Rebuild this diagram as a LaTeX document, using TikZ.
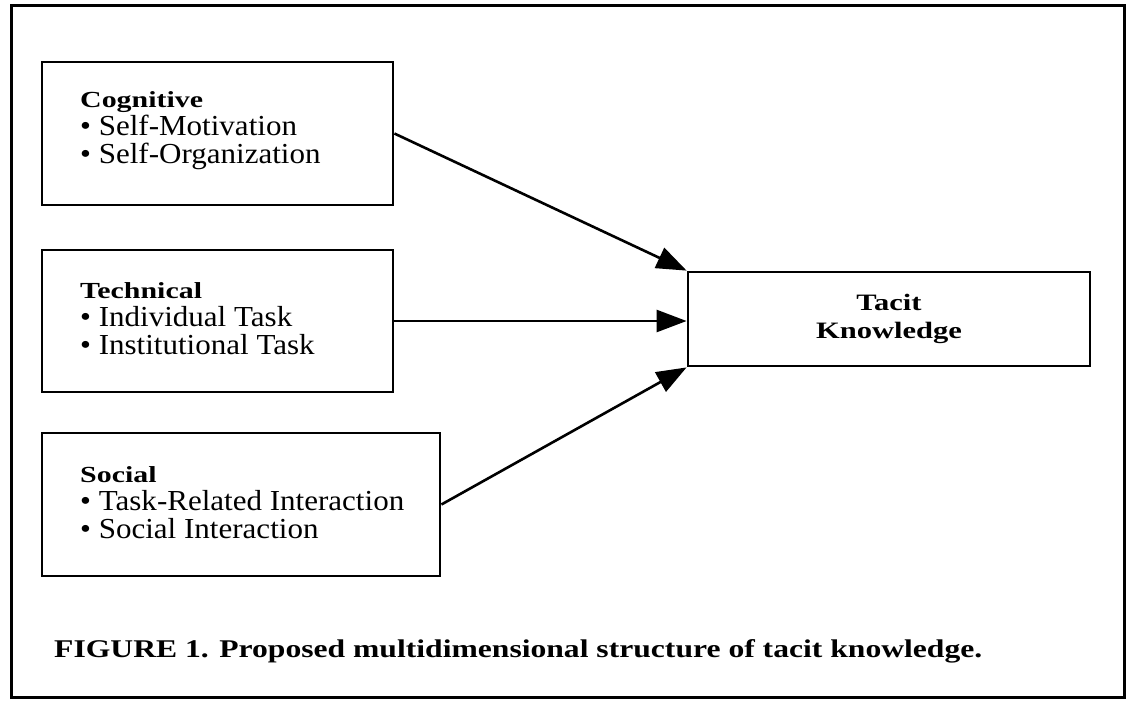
\documentclass[tikz,border=0pt]{standalone}
\usepackage{fontspec}
\setmainfont[FakeStretch=1.07]{Liberation Serif}
\newfontfamily\boldwide[FakeStretch=1.3]{Liberation Serif Bold}
\newfontfamily\capfont[FakeStretch=1.24]{Liberation Serif Bold}
\usetikzlibrary{arrows.meta}
\begin{document}
\begin{tikzpicture}[x=1pt,y=-1pt,
  dimbox/.style={draw,line width=2.8pt,inner sep=0pt},
  headtext/.style={anchor=base west,inner sep=0pt,font=\boldwide\fontsize{23}{28}\selectfont},
  itemtext/.style={anchor=base west,inner sep=0pt,font=\fontsize{29}{28}\selectfont},
  tacitbox/.style={draw,line width=2.8pt,align=center,minimum width=402pt,minimum height=94pt,
    font=\boldwide\fontsize{23.5}{28}\selectfont},
  link/.style={line width=2.6pt,-{Triangle[length=30pt,width=22pt]}},
  caption/.style={font=\capfont\fontsize{25.5}{30}\selectfont,anchor=base west,inner sep=0pt}]
\useasboundingbox (0,0) rectangle (1134,702);
\draw[line width=3pt] (11,5) rectangle (1124,697);
% boxes
\node[dimbox,minimum width=351pt,minimum height=143pt] (cog) at (217.5,133.5) {};
\node[dimbox,minimum width=351pt,minimum height=142pt] (tech) at (217.5,321) {};
\node[dimbox,minimum width=398pt,minimum height=143pt] (soc) at (241,504.5) {};
\node[tacitbox] (tacit) at (889,319) {Tacit\\Knowledge};
% texts
\node[headtext] (cogh) at (80,107) {Cognitive};
\node[itemtext] (cog1) at (80,135) {\textbullet\ Self-Motivation};
\node[itemtext] (cog2) at (80,163) {\textbullet\ Self-Organization};
\node[headtext] (techh) at (80,298) {Technical};
\node[itemtext] (tech1) at (80,326) {\textbullet\ Individual Task};
\node[itemtext] (tech2) at (80,354) {\textbullet\ Institutional Task};
\node[headtext] (soch) at (80,482) {Social};
\node[itemtext] (soc1) at (80,510) {\textbullet\ Task-Related Interaction};
\node[itemtext] (soc2) at (80,538) {\textbullet\ Social Interaction};
% connectors
\draw[link] (cog.east) -- (tacit.north west);
\draw[link] (tech.east) -- (tech.east -| tacit.west);
\draw[link] (soc.east) -- (tacit.south west);
\node[caption] (cap) at (54,657) {FIGURE 1. Proposed multidimensional structure of tacit knowledge.};
\end{tikzpicture}
\end{document}
